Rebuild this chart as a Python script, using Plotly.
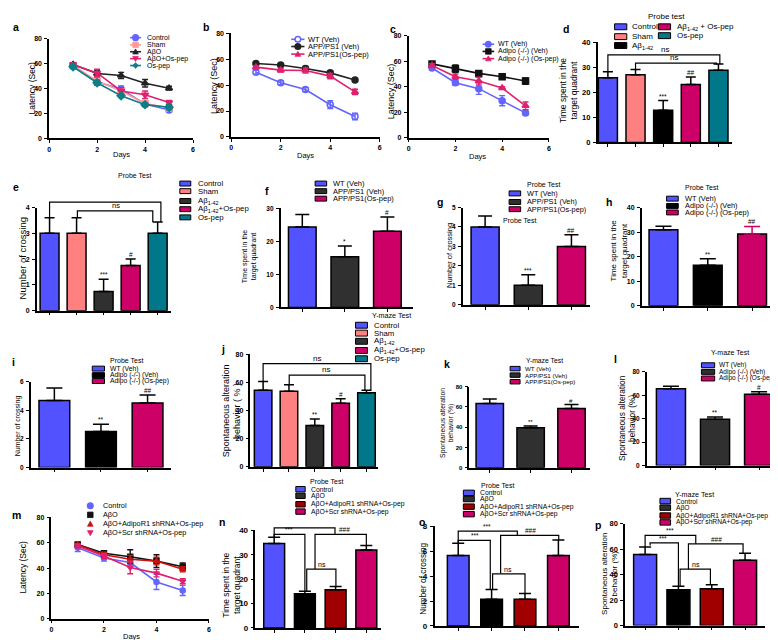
import plotly.graph_objects as go

W, H = 778, 640
FONT = "Liberation Sans, Arial, Helvetica, sans-serif"

# ======================= DATA =======================
days = [1, 2, 3, 4, 5]

# a  (latency, AβO model)
a_names = ["Control", "Sham", "AβO", "AβO+Os-pep", "Os-pep"]
a_control = [57.9, 45.5, 39.5, 27.6, 22.9]
a_sham = [58.5, 46.0, 38.0, 28.0, 24.5]
a_abo = [59.2, 52.1, 50.5, 44.2, 40.3]
a_abo_os = [59.0, 52.5, 38.1, 35.0, 28.9]
a_ospep = [57.5, 44.7, 34.2, 27.1, 25.0]
a_control_err = [1.5, 2.5, 2.5, 2.0, 2.0]
a_sham_err = [1.5, 2.0, 2.0, 2.0, 2.0]
a_abo_err = [1.5, 2.5, 2.5, 3.0, 1.5]
a_abo_os_err = [1.5, 3.0, 2.5, 3.0, 1.5]
a_ospep_err = [1.5, 2.0, 1.5, 1.5, 2.0]

# b  (latency, APP/PS1)
b_names = ["WT (Veh)", "APP/PS1 (Veh)", "APP/PS1(Os-pep)"]
b_wt = [50.0, 41.9, 36.6, 24.9, 15.8]
b_app = [56.7, 55.6, 52.9, 49.5, 44.0]
b_app_os = [53.9, 51.6, 51.3, 47.0, 34.8]
b_wt_err = [1.5, 1.5, 1.5, 3.0, 2.5]
b_app_err = [1.0, 1.0, 1.5, 1.5, 1.0]
b_app_os_err = [1.0, 1.5, 2.0, 2.0, 2.0]

# c  (latency, Adipo -/-)
c_names = ["WT (Veh)", "Adipo (-/-) (Veh)", "Adipo (-/-) (Os-pep)"]
c_wt = [54.8, 43.2, 38.5, 29.0, 19.4]
c_adipo = [58.0, 54.1, 50.5, 47.9, 44.5]
c_adipo_os = [56.7, 47.9, 44.5, 39.0, 25.0]
c_wt_err = [1.5, 2.0, 4.5, 4.0, 1.5]
c_adipo_err = [1.0, 3.0, 1.5, 2.0, 2.5]
c_adipo_os_err = [1.5, 2.0, 3.0, 1.0, 3.0]

# m  (latency, shRNA)
m_names = ["Control", "AβO", "AβO+AdipoR1 shRNA+Os-pep", "AβO+Scr shRNA+Os-pep"]
m_control = [56.0, 48.0, 44.4, 29.0, 22.3]
m_abo = [58.7, 51.7, 49.0, 45.5, 41.0]
m_adipor1 = [58.5, 50.5, 47.0, 45.5, 39.0]
m_scr = [57.5, 49.5, 40.5, 36.0, 29.6]
m_control_err = [3.0, 2.5, 3.0, 6.0, 4.0]
m_abo_err = [1.5, 2.0, 5.5, 5.0, 3.0]
m_adipor1_err = [1.0, 2.0, 3.0, 3.0, 2.0]
m_scr_err = [1.5, 2.0, 5.0, 3.0, 2.0]

# bar-chart groups
grp5 = ["Control", "Sham", "Aβ<sub>1-42</sub>", "Aβ<sub>1-42</sub>+Os-pep", "Os-pep"]
grp_app = ["WT (Veh)", "APP/PS1 (Veh)", "APP/PS1(Os-pep)"]
grp_adipo = ["WT (Veh)", "Adipo (-/-) (Veh)", "Adipo (-/-) (Os-pep)"]
grp_sh = ["Control", "AβO", "AβO+AdipoR1 shRNA+Os-pep", "AβO+Scr shRNA+Os-pep"]

d_vals = [25.8, 27.0, 12.9, 23.1, 28.8];   d_caps = [28.2, 29.1, 16.7, 26.1, 31.3]
d_marks = ["", "", "***", "##", ""]
e_vals = [3.0, 3.0, 0.75, 1.75, 3.0];      e_caps = [3.6, 3.6, 1.22, 2.0, 3.44]
e_marks = ["", "", "***", "#", ""]
f_vals = [24.4, 15.4, 23.1];               f_caps = [28.2, 18.6, 27.4]
f_marks = ["", "*", "#"]
g_vals = [4.0, 1.0, 3.0];                  g_caps = [4.57, 1.55, 3.6]
g_marks = ["", "***", "##"]
h_vals = [30.9, 16.5, 29.2];               h_caps = [32.4, 19.1, 32.3]
h_marks = ["", "**", "##"]
i_vals = [4.68, 2.51, 4.52];               i_caps = [5.56, 3.02, 5.07]
i_marks = ["", "**", "##"]
j_vals = [54.5, 53.8, 29.4, 45.2, 52.7];   j_caps = [60.8, 58.5, 34.0, 48.5, 54.5]
j_marks = ["", "", "**", "#", ""]
k_vals = [63.4, 39.6, 58.5];               k_caps = [67.9, 41.3, 62.4]
k_marks = ["", "**", "#"]
l_vals = [65.5, 39.6, 60.8];               l_caps = [67.8, 41.5, 63.0]
l_marks = ["", "**", "#"]
n_vals = [34.6, 14.0, 15.6, 31.9];         n_caps = [37.2, 15.0, 17.0, 33.8]
o_vals = [5.66, 2.15, 2.15, 5.66];         o_caps = [6.64, 2.92, 2.6, 6.9]
p_vals = [55.9, 28.1, 28.9, 51.3];         p_caps = [61.6, 30.9, 32.0, 56.7]

# ======================= STYLE =======================
BLUE = "#5252FF"
LBLUE = "#6464FF"
SALMON = "#FF8080"
BLACK = "#000000"
DGREY = "#303030"
MAGENTA = "#CC0066"
TEAL = "#00788A"
DRED = "#A00000"
RED = "#C81010"
PINK = "#E0206E"
SHAM_L = "#FF9A9A"

cols5_d = [BLUE, SALMON, BLACK, MAGENTA, TEAL]
cols5_e = [BLUE, SALMON, DGREY, MAGENTA, TEAL]
cols3_grey = [BLUE, DGREY, MAGENTA]
cols3_black = [BLUE, BLACK, MAGENTA]
cols4 = [BLUE, BLACK, DRED, MAGENTA]
cols4_leg = [BLUE, DGREY, DRED, MAGENTA]

fig = go.Figure()
annotations = []
shapes = []
layout_axes = {}


def ax(n, a):
    return a if n == 1 else f"{a}{n}"


def X(x):
    return x / W


def Y(y):
    return 1 - y / H


def T(x, y, s, size=9, xa="left", ya="middle", angle=0, bold=False, color="black"):
    annotations.append(dict(
        x=X(x), y=Y(y), xref="paper", yref="paper",
        text=(f"<b>{s}</b>" if bold else s), showarrow=False,
        xanchor=xa, yanchor=ya, textangle=angle, borderpad=0,
        font=dict(family=FONT, size=size, color=color)))


def setup_axes(n, box, xr, yr, yt, xt, xlabels=True, tsize=7):
    x0, x1, ytop, ybot = box
    tf = dict(family=FONT, size=tsize, color="black", weight="bold")
    common = dict(showline=True, linecolor="black", linewidth=1.5, ticks="outside",
                  ticklen=3, tickwidth=1.3, tickcolor="black", showgrid=False,
                  zeroline=False, tickfont=tf, fixedrange=True)
    layout_axes["xaxis" if n == 1 else f"xaxis{n}"] = dict(
        domain=[X(x0), X(x1)], range=xr, anchor=ax(n, "y"), tickvals=xt,
        showticklabels=xlabels, ticklabelstandoff=0, **common)
    layout_axes["yaxis" if n == 1 else f"yaxis{n}"] = dict(
        domain=[Y(ybot), Y(ytop)], range=yr, anchor=ax(n, "x"), tickvals=yt,
        ticklabelstandoff=1, **common)


def line_panel(n, ys, errs, colors, symbols, msize=6):
    for y, e, c, s in zip(ys, errs, colors, symbols):
        fig.add_trace(go.Scatter(
            x=days, y=y, mode="lines+markers",
            line=dict(color=c, width=1.6),
            marker=dict(symbol=s, size=msize, color=c, line=dict(color=c, width=1.5)),
            error_y=dict(type="data", array=e, color=c, thickness=1.4, width=3),
            xaxis=ax(n, "x"), yaxis=ax(n, "y"), showlegend=False, cliponaxis=False))


def bar_panel(n, vals, caps, colors, bw, capw, ecolors=None):
    for i, (v, c, col) in enumerate(zip(vals, caps, colors)):
        ec = ecolors[i] if ecolors else "black"
        fig.add_trace(go.Bar(
            x=[i], y=[v], width=bw,
            marker=dict(color=col, line=dict(color="black", width=1.5)),
            error_y=dict(type="data", symmetric=False, array=[c - v], arrayminus=[0],
                         color=ec, thickness=1.5, width=capw),
            xaxis=ax(n, "x"), yaxis=ax(n, "y"), showlegend=False))


def sig_marks(n, caps, marks, size=6.5, dy=0):
    for i, (c, m) in enumerate(zip(caps, marks)):
        if m:
            annotations.append(dict(
                x=i, y=c, xref=ax(n, "x"), yref=ax(n, "y"), text=m, showarrow=False,
                yanchor="bottom", yshift=dy, borderpad=0,
                font=dict(family=FONT, size=size, color="black")))


def bracket(n, ymax, xl, xr, yline, yl, yrr, label, lx, size=7):
    path = (f"M {xl},{yl / ymax} L {xl},{yline / ymax} "
            f"L {xr},{yline / ymax} L {xr},{yrr / ymax}")
    shapes.append(dict(type="path", xref=ax(n, "x"), yref=ax(n, "y") + " domain",
                       path=path, line=dict(color="black", width=1.2)))
    annotations.append(dict(
        x=lx, y=yline, xref=ax(n, "x"), yref=ax(n, "y"), text=label, showarrow=False,
        yanchor="bottom", yshift=0, borderpad=0,
        font=dict(family=FONT, size=size, color="black")))


def mshape(cx, cy, sym, color, s=2.8):
    if sym in ("circle", "circle-open"):
        shapes.append(dict(type="circle", xref="paper", yref="paper",
                           x0=X(cx - s), x1=X(cx + s), y0=Y(cy + s), y1=Y(cy - s),
                           fillcolor=("white" if sym == "circle-open" else color),
                           line=dict(color=color, width=1.5)))
        return
    if sym == "square":
        pts = [(cx - s, cy - s), (cx + s, cy - s), (cx + s, cy + s), (cx - s, cy + s)]
    elif sym == "triangle-up":
        pts = [(cx - s, cy + s * 0.8), (cx + s, cy + s * 0.8), (cx, cy - s)]
    elif sym == "triangle-down":
        pts = [(cx - s, cy - s * 0.8), (cx + s, cy - s * 0.8), (cx, cy + s)]
    else:  # diamond
        pts = [(cx, cy - s), (cx + s, cy), (cx, cy + s), (cx - s, cy)]
    path = "M " + " L ".join(f"{X(p[0])},{Y(p[1])}" for p in pts) + " Z"
    shapes.append(dict(type="path", xref="paper", yref="paper", path=path,
                       fillcolor=color, line=dict(color=color, width=0.8)))


def line_legend(lx0, lx1, tx, rows, names, colors, symbols, fsize=7.5, with_line=True):
    for nm, c, s, ry in zip(names, colors, symbols, rows):
        if with_line:
            shapes.append(dict(type="line", xref="paper", yref="paper",
                               x0=X(lx0), x1=X(lx1), y0=Y(ry), y1=Y(ry),
                               line=dict(color=c, width=1.6)))
        mshape((lx0 + lx1) / 2, ry, s, c)
        T(tx, ry, nm, fsize)


def bar_legend(sx0, sw, sh, tx, rows, names, colors, fsize=7.5):
    for nm, c, ry in zip(names, colors, rows):
        shapes.append(dict(type="rect", xref="paper", yref="paper",
                           x0=X(sx0), x1=X(sx0 + sw), y0=Y(ry + sh / 2), y1=Y(ry - sh / 2),
                           fillcolor=c, line=dict(color="black", width=1)))
        T(tx, ry, nm, fsize)


YT80 = [0, 20, 40, 60, 80]
XT6 = [0, 2, 4, 6]

# ---------------- a ----------------
setup_axes(1, (39.3, 184, 27, 128.3), [0, 6], [0, 80], YT80, XT6)
a_cols = [LBLUE, SHAM_L, "#222222", PINK, "#0E7F86"]
a_syms = ["circle", "square", "triangle-up", "triangle-down", "diamond"]
line_panel(1, [a_control, a_sham, a_abo, a_abo_os, a_ospep],
           [a_control_err, a_sham_err, a_abo_err, a_abo_os_err, a_ospep_err], a_cols, a_syms)
line_legend(120.7, 131.7, 136.5, [26, 33.3, 40.3, 47.3, 54.3], a_names, a_cols, a_syms, 7)
T(21.7, 77, "Latency (Sec)", 8.5, xa="center", angle=-90)
T(111.7, 145, "Days", 7.5, xa="center")
T(2, 15, "a", 10.5, bold=True)

# ---------------- b ----------------
setup_axes(2, (222.3, 371.7, 21.7, 126.7), [0, 6], [0, 80], YT80, XT6)
b_cols = [LBLUE, "#222222", PINK]
b_syms = ["circle-open", "circle", "triangle-up"]
line_panel(2, [b_wt, b_app, b_app_os], [b_wt_err, b_app_err, b_app_os_err], b_cols, b_syms)
line_legend(282.7, 296, 299, [27.7, 35, 42.7], b_names, b_cols, b_syms, 7.5)
T(205, 75, "Latency (Sec)", 9, xa="center", angle=-90)
T(296.7, 145.7, "Days", 7.5, xa="center")
T(193, 15, "b", 10.5, bold=True)

# ---------------- c ----------------
setup_axes(3, (400.7, 541.7, 24.3, 127.3), [0, 6], [0, 80], YT80, XT6)
c_cols = [LBLUE, "#111111", PINK]
c_syms = ["circle", "square", "triangle-up"]
line_panel(3, [c_wt, c_adipo, c_adipo_os], [c_wt_err, c_adipo_err, c_adipo_os_err], c_cols, c_syms)
line_legend(475, 486.7, 490, [32.7, 40, 47.3], c_names, c_cols, c_syms, 7)
T(383.3, 80, "Latency (Sec)", 9, xa="center", angle=-90)
T(470, 146.7, "Days", 7.5, xa="center")
T(381, 17, "c", 10.5, bold=True)

# ---------------- d ----------------
setup_axes(4, (590.7, 726, 30.7, 132.3), [-0.37, 4.5], [0, 40], [0, 10, 20, 30, 40],
           list(range(5)), xlabels=False, tsize=7.5)
bar_panel(4, d_vals, d_caps, cols5_d, 0.69, 5)
sig_marks(4, d_caps, d_marks, 6.5)
bracket(4, 40, 0, 4.05, 35.0, 28.2, 31.3, "ns", 2.05, 8)
bracket(4, 40, 1, 3.93, 31.7, 29.1, 31.0, "ns", 2.4, 8)
T(660, 5, "Probe test", 8, xa="center")
bar_legend(607.7, 12.3, 6, 624.3, [15, 25, 34], grp5[:3], cols5_d[:3], 8)
bar_legend(651.7, 12.3, 6, 669, [15, 24], ["Aβ<sub>1-42</sub> + Os-pep", "Os-pep"], cols5_d[3:], 8)
T(562, 80, "Time spent in the<br>target quadrant", 8.5, xa="center", angle=-90)
T(555, 17, "d", 10.5, bold=True)

# ---------------- e ----------------
setup_axes(5, (27, 162, 198.3, 303), [-0.47, 4.5], [0, 4], [0, 1, 2, 3, 4],
           list(range(5)), xlabels=False, tsize=7)
bar_panel(5, e_vals, e_caps, cols5_e, 0.7, 5)
sig_marks(5, e_caps, e_marks, 6.5)
bracket(5, 4, 0, 4.12, 4.21, 3.6, 3.44, "ns", 2.1, 7.5)
bracket(5, 4, 1.03, 3.82, 3.87, 3.6, 3.44, "ns", 2.47, 7.5)
T(125, 166, "Probe Test", 7, xa="center")
bar_legend(170.7, 11, 5, 188, [174, 181.7, 191.7, 200, 208.3], grp5, cols5_e, 7.8)
T(13, 250, "Number of crossing", 9.5, xa="center", angle=-90)
T(2, 178, "e", 10.5, bold=True)

# ---------------- f ----------------
setup_axes(6, (272, 405, 199.3, 299.6), [-0.51, 2.6], [0, 30], [0, 10, 20, 30],
           list(range(3)), xlabels=False, tsize=6.5)
bar_panel(6, f_vals, f_caps, cols3_grey, 0.65, 7)
sig_marks(6, f_caps, f_marks, 6.5)
bar_legend(306.7, 11.6, 5, 323.3, [174, 181.7, 189.3], grp_app, cols3_grey, 7.5)
T(241, 248, "Time spent in the<br>target quadrant", 7, xa="center", angle=-90)
T(255, 182, "f", 10.5, bold=True)

# ---------------- g ----------------
setup_axes(7, (455, 583, 198.3, 297), [-0.52, 2.43], [0, 5], [0, 1, 2, 3, 4, 5],
           list(range(3)), xlabels=False, tsize=6.5)
bar_panel(7, g_vals, g_caps, cols3_grey, 0.65, 7)
sig_marks(7, g_caps, g_marks, 6.5)
T(536, 175, "Probe Test", 7, xa="center")
bar_legend(501.7, 11.6, 5, 519, [184, 192.7, 200], grp_app, cols3_grey, 7.3)
T(495, 211, "Probe Test", 7)
T(441.7, 247, "Number of crossing", 7.5, xa="center", angle=-90)
T(428, 193, "g", 10.5, bold=True)

# ---------------- h ----------------
setup_axes(8, (635, 774, 198.3, 298), [-0.49, 2.63], [0, 40], [0, 10, 20, 30, 40],
           list(range(3)), xlabels=False, tsize=7)
bar_panel(8, h_vals, h_caps, cols3_black, 0.65, 8, ecolors=["black", "black", MAGENTA])
sig_marks(8, h_caps, h_marks, 6.5)
T(695, 178.3, "Probe Test", 7, xa="center")
bar_legend(660, 11.7, 5, 677, [189.3, 196.7, 203.3], grp_adipo, cols3_black, 7.4)
T(612, 242, "Time spent in the<br>target quadrant", 8, xa="center", angle=-90)
T(598, 193, "h", 10.5, bold=True)

# ---------------- i ----------------
setup_axes(9, (20.7, 161.7, 375, 462), [-0.51, 2.5], [0, 6], [0, 2, 4, 6],
           list(range(3)), xlabels=False, tsize=6.5)
bar_panel(9, i_vals, i_caps, cols3_black, 0.66, 8)
sig_marks(9, i_caps, i_marks, 6.5)
T(116.7, 353.3, "Probe Test", 7, xa="center")
bar_legend(82.7, 12.3, 5, 99.3, [361.7, 368.3, 374.3], grp_adipo, cols3_black, 6.8)
T(8.3, 420, "Number of crossing", 7, xa="center", angle=-90)
T(1, 355, "i", 10.5, bold=True)

# ---------------- j ----------------
setup_axes(10, (241.7, 370, 347.3, 461.3), [-0.49, 4.45], [0, 80], YT80,
           list(range(5)), xlabels=False, tsize=7)
bar_panel(10, j_vals, j_caps, cols5_e, 0.68, 5)
sig_marks(10, j_caps, j_marks, 6.5)
bracket(10, 80, 0, 4.17, 73.4, 60.8, 54.5, "ns", 2.07, 8)
bracket(10, 80, 1.01, 3.94, 65.3, 58.5, 54.5, "ns", 2.42, 8)
T(383.3, 308.3, "Y-maze Test", 7.2, xa="center")
bar_legend(347.3, 12, 6, 365, [317.7, 325.7, 334, 343.3, 351.7], grp5, cols5_e, 7.8)
T(223, 404, "Spontaneous alteration<br>behavior ( % )", 9, xa="center", angle=-90)
T(211, 342, "j", 10.5, bold=True)

# ---------------- k ----------------
setup_axes(11, (461.7, 583.3, 380, 462.3), [-0.5, 2.46], [0, 80], YT80,
           list(range(3)), xlabels=False, tsize=6)
bar_panel(11, k_vals, k_caps, cols3_grey, 0.67, 7)
sig_marks(11, k_caps, k_marks, 6)
T(537, 353.3, "Y-maze Test", 6.8, xa="center")
bar_legend(502.7, 10, 4.5, 516.7, [361.7, 368.3, 375], grp_app, cols3_grey, 6.2)
T(439, 417, "Spontaneous alteration<br>behavior (%)", 6.8, xa="center", angle=-90)
T(435, 357, "k", 10.5, bold=True)

# ---------------- l ----------------
setup_axes(12, (640, 776, 365, 460), [-0.55, 2.52], [0, 80], YT80,
           list(range(3)), xlabels=False, tsize=6.5)
bar_panel(12, l_vals, l_caps, cols3_grey, 0.66, 8)
sig_marks(12, l_caps, l_marks, 6.5)
T(723.3, 345, "Y-maze Test", 7, xa="center")
bar_legend(695, 13.3, 5, 712, [358.3, 365, 371.7], grp_adipo, cols3_grey, 6.5)
T(620, 412, "Spontaneous alteration<br>behavior (%)", 8.3, xa="center", angle=-90)
T(606, 352, "l", 10.5, bold=True)

# ---------------- m ----------------
setup_axes(13, (41.7, 200, 512.7, 615.3), [0, 6], [0, 80], YT80, XT6)
m_cols = [LBLUE, "#111111", RED, PINK]
m_syms = ["circle", "square", "triangle-up", "triangle-down"]
line_panel(13, [m_control, m_abo, m_adipor1, m_scr],
           [m_control_err, m_abo_err, m_adipor1_err, m_scr_err], m_cols, m_syms, msize=5)
line_legend(78, 83.4, 92.7, [500.7, 510, 519.3, 528.3], m_names, m_cols, m_syms, 7.3,
            with_line=False)
T(13.3, 563.3, "Latency (Sec)", 8.5, xa="center", angle=-90)
T(121.7, 633, "Days", 7.5, xa="center")
T(1, 510, "m", 10.5, bold=True)

# ---------------- n ----------------
setup_axes(14, (246.7, 373.3, 525.7, 624.7), [-0.61, 3.49], [0, 40], [0, 10, 20, 30, 40],
           list(range(4)), xlabels=False, tsize=8)
bar_panel(14, n_vals, n_caps, cols4, 0.68, 6)
bracket(14, 40, 0, 1.98, 41.0, 37.2, 38.3, "***", 0.95, 6.5)
bracket(14, 40, 0, 1.0, 38.3, 37.2, 15.0, "***", 0.47, 6.5)
bracket(14, 40, 1.33, 3.0, 38.3, 24.1, 33.8, "###", 2.3, 6.5)
bracket(14, 40, 1.06, 2.01, 24.1, 15.0, 17.0, "ns", 1.55, 7)
T(318.3, 476.7, "Probe Test", 7, xa="center")
bar_legend(287.3, 9.4, 5.5, 301.7, [484, 490.7, 499.3, 506.7], grp_sh, cols4_leg, 6.8)
T(223, 581, "Time spent in the<br>target quadrant", 8.5, xa="center", angle=-90)
T(209, 517, "n", 10.5, bold=True)

# ---------------- o ----------------
setup_axes(15, (426.7, 571.7, 521.7, 622.7), [-0.71, 3.61], [0, 8], [0, 2, 4, 6, 8],
           list(range(4)), xlabels=False, tsize=8)
bar_panel(15, o_vals, o_caps, cols4, 0.65, 6)
bracket(15, 8, 0, 1.77, 7.62, 6.64, 7.28, "***", 0.86, 6.5)
bracket(15, 8, 0, 0.96, 6.88, 6.64, 2.92, "***", 0.5, 6.5)
bracket(15, 8, 1.27, 3.01, 7.28, 4.24, 6.9, "###", 2.17, 6.5)
bracket(15, 8, 1.03, 2.0, 4.18, 2.92, 2.6, "ns", 1.5, 7)
T(490, 480.7, "Probe Test", 7, xa="center")
bar_legend(455.7, 11, 5.5, 471, [487.7, 494, 501.7, 509.3], grp_sh, cols4_leg, 6.8)
T(415, 575, "Number of crossing", 8.3, xa="center", angle=-90)
T(410, 517, "o", 10.5, bold=True)

# ---------------- p ----------------
setup_axes(16, (618.3, 759.3, 519, 622.3), [-0.6, 3.61], [0, 80], YT80,
           list(range(4)), xlabels=False, tsize=7.5)
bar_panel(16, p_vals, p_caps, cols4, 0.69, 6)
bracket(16, 80, 0, 1.52, 70.9, 61.6, 64.2, "***", 0.75, 6.5)
bracket(16, 80, 0.15, 1.0, 65.0, 62.9, 30.9, "***", 0.55, 6.5)
bracket(16, 80, 1.3, 2.94, 64.2, 44.3, 56.7, "###", 2.14, 6.5)
bracket(16, 80, 1.05, 1.96, 44.3, 30.9, 32.0, "ns", 1.52, 7)
T(687.7, 489.3, "Y-maze Test", 7.2, xa="center")
bar_legend(653.3, 10.7, 5.5, 668.3, [496, 502.7, 510.7, 517.7], grp_sh, cols4_leg, 6.7)
T(603, 570, "Spontaneous alteration<br>behavior (%)", 8, xa="center", angle=-90)
T(587, 520, "p", 10.5, bold=True)

fig.update_layout(
    width=W, height=H, margin=dict(l=0, r=0, t=0, b=0),
    paper_bgcolor="white", plot_bgcolor="white",
    barmode="overlay", showlegend=False,
    font=dict(family=FONT, color="black"),
    annotations=annotations, shapes=shapes, **layout_axes)

fig.write_html("out.html")
